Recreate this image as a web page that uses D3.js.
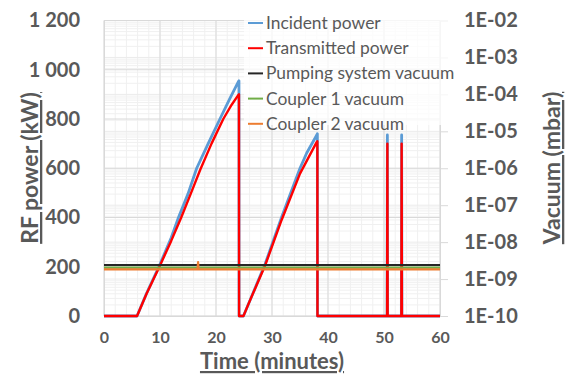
<!DOCTYPE html>
<html>
<head>
<meta charset="utf-8">
<script src="https://cdn.jsdelivr.net/npm/d3@7"></script>
<style>
  body { margin: 0; background: #fff; }
  svg { display: block; }
  text { font-family: Lato, "Open Sans", sans-serif; }
</style>
</head>
<body>
<div id="chart"></div>
<script>
// RF power, time in minutes
var incidentTime = [0, 5.9, 7.6, 9.9, 12, 13.3, 15, 16.55, 18.6, 20.7, 22.4, 24.0, 24.1, 24.12,
  24.9, 26.1, 28.75, 31.7, 35.0, 36.2, 38.0, 38.1, 38.12,
  50.55, 50.6, 50.65, 53.1, 53.15, 53.2, 60];
var incidentKW = [0, 0, 92, 205, 318, 400, 496, 600, 700, 800, 880, 952, 955, 0,
  0, 65, 210, 400, 600, 662, 735, 740, 0,
  0, 735, 0, 0, 735, 0, 0];

var transmittedTime = [0, 5.9, 7.6, 9.9, 12, 13.75, 15.5, 17.2, 19.2, 21.3, 22.8, 24.0, 24.1, 24.12,
  24.9, 26.1, 28.75, 31.7, 35.0, 38.0, 38.1, 38.12,
  50.55, 50.6, 50.65, 53.1, 53.15, 53.2, 60];
var transmittedKW = [0, 0, 90, 200, 305, 398, 497, 595, 700, 800, 858, 898, 900, 0,
  0, 65, 204, 389, 578, 707, 710, 0,
  0, 700, 0, 0, 700, 0, 0];

// vacuum (mbar), secondary log axis
var vacTime = [0, 16.7, 16.8, 16.9, 60];
var pumpingVac = [2.4e-9, 2.4e-9, 2.4e-9, 2.4e-9, 2.4e-9];
var coupler1Vac = [2.05e-9, 2.05e-9, 2.05e-9, 2.05e-9, 2.05e-9];
var coupler2Vac = [1.83e-9, 1.83e-9, 2.9e-9, 1.83e-9, 1.83e-9];

var seriesNames = ["Incident power", "Transmitted power", "Pumping system vacuum", "Coupler 1 vacuum", "Coupler 2 vacuum"];
var seriesColors = ["#5B9BD5", "#FF0000", "#262626", "#70AD47", "#ED7D31"];

var xTicks = [0, 10, 20, 30, 40, 50, 60];
var yLeftTicks = [0, 200, 400, 600, 800, 1000, 1200];
var yRightTicks = [1e-10, 1e-9, 1e-8, 1e-7, 1e-6, 1e-5, 1e-4, 1e-3, 1e-2];

var W = 576, H = 376;
var plotL = 104, plotR = 440, plotT = 20.5, plotB = 316;

var svg = d3.select("#chart").append("svg").attr("width", W).attr("height", H);

var x = d3.scaleLinear().domain([0, 60]).range([plotL, plotR]);
var yL = d3.scaleLinear().domain([0, 1200]).range([plotB, plotT]);
var yR = d3.scaleLog().domain([1e-10, 1e-2]).range([plotB, plotT]);

var grid = svg.append("g");

// minor gridlines
grid.selectAll(".vmin").data(d3.range(0, 61, 2)).enter().append("line")
  .attr("x1", d => x(d)).attr("x2", d => x(d)).attr("y1", plotT).attr("y2", plotB)
  .style("stroke", "#f0f0f0").style("stroke-width", 1);

var logMinor = [];
yRightTicks.slice(0, -1).forEach(function(p) { for (var k = 2; k < 10; k++) logMinor.push(p * k); });
grid.selectAll(".hmin").data(logMinor).enter().append("line")
  .attr("x1", plotL).attr("x2", plotR).attr("y1", d => yR(d)).attr("y2", d => yR(d))
  .style("stroke", "#f0f0f0").style("stroke-width", 1);

grid.selectAll(".hdec").data(yRightTicks).enter().append("line")
  .attr("x1", plotL).attr("x2", plotR).attr("y1", d => yR(d)).attr("y2", d => yR(d))
  .style("stroke", "#ebebeb").style("stroke-width", 1);

// major gridlines
grid.selectAll(".vmaj").data(xTicks).enter().append("line")
  .attr("x1", d => x(d)).attr("x2", d => x(d)).attr("y1", plotT).attr("y2", plotB)
  .style("stroke", "#d9d9d9").style("stroke-width", 1);
grid.selectAll(".hmaj").data(yLeftTicks).enter().append("line")
  .attr("x1", plotL).attr("x2", plotR).attr("y1", d => yL(d)).attr("y2", d => yL(d))
  .style("stroke", "#d9d9d9").style("stroke-width", 1);

// axes
var fmt = d3.formatLocale({decimal: ".", thousands: " ", grouping: [3], currency: ["", ""]}).format(",");

var axL = svg.append("g").attr("transform", "translate(" + plotL + ",0)")
  .call(d3.axisLeft(yL).tickValues(yLeftTicks).tickSize(0).tickPadding(24).tickFormat(fmt));
var axR = svg.append("g").attr("transform", "translate(" + plotR + ",0)")
  .call(d3.axisRight(yR).tickValues(yRightTicks).tickSize(8).tickPadding(16)
    .tickFormat(v => "1E-" + String(-Math.round(Math.log10(v))).padStart(2, "0")));
var axB = svg.append("g").attr("transform", "translate(0," + plotB + ")")
  .call(d3.axisBottom(x).tickValues(xTicks).tickSize(0).tickPadding(16));

[axL, axR, axB].forEach(function(a) {
  a.select(".domain").style("stroke", "#d9d9d9");
  a.selectAll(".tick line").style("stroke", "#d9d9d9");
  a.selectAll("text").style("fill", "#595959").style("font-weight", "bold")
    .style("font-family", "Lato, 'Open Sans', sans-serif");
});
axL.selectAll("text").style("font-size", "20px");
axR.selectAll("text").style("font-size", "20px");
axB.selectAll("text").style("font-size", "16px");

// series
function drawLine(xs, ys, yScale, color, width) {
  var pts = xs.map((t, i) => [t, ys[i]]);
  svg.append("path").datum(pts)
    .attr("d", d3.line().x(d => x(d[0])).y(d => yScale(d[1])))
    .style("fill", "none").style("stroke", color).style("stroke-width", width)
    .style("stroke-linejoin", "round");
}
drawLine(incidentTime, incidentKW, yL, seriesColors[0], 2.8);
drawLine(transmittedTime, transmittedKW, yL, seriesColors[1], 2.4);
drawLine(vacTime, pumpingVac, yR, seriesColors[2], 2.2);
drawLine(vacTime, coupler1Vac, yR, seriesColors[3], 2.2);
drawLine(vacTime, coupler2Vac, yR, seriesColors[4], 2.2);

// legend
var lg = svg.append("g").attr("transform", "translate(248,23)");
lg.append("rect").attr("x", -4).attr("y", -10).attr("width", 214).attr("height", 112)
  .style("fill", "#fff").style("opacity", 0.75);
var item = lg.selectAll(".item").data(seriesNames).enter().append("g")
  .attr("transform", (d, i) => "translate(0," + (i * 25.2) + ")");
item.append("line").attr("x1", 0).attr("x2", 15).attr("y1", 0).attr("y2", 0)
  .style("stroke", (d, i) => seriesColors[i]).style("stroke-width", 2);
item.append("text").attr("x", 18).attr("y", 0).attr("dy", "0.35em")
  .style("font-size", "17.4px").style("fill", "#595959").text(d => d);

// axis titles
svg.append("text").attr("x", 272).attr("y", 369).attr("text-anchor", "middle")
  .style("font-size", "22px").style("font-weight", "bold").style("fill", "#595959")
  .style("text-decoration", "underline").text("Time (minutes)");
svg.append("text").attr("transform", "translate(38,168) rotate(-90)").attr("text-anchor", "middle")
  .style("font-size", "23px").style("font-weight", "bold").style("fill", "#595959")
  .style("text-decoration", "underline").text("RF power (kW)");
svg.append("text").attr("transform", "translate(560,168) rotate(-90)").attr("text-anchor", "middle")
  .style("font-size", "23px").style("font-weight", "bold").style("fill", "#595959")
  .style("text-decoration", "underline").text("Vacuum (mbar)");
</script>
</body>
</html>
